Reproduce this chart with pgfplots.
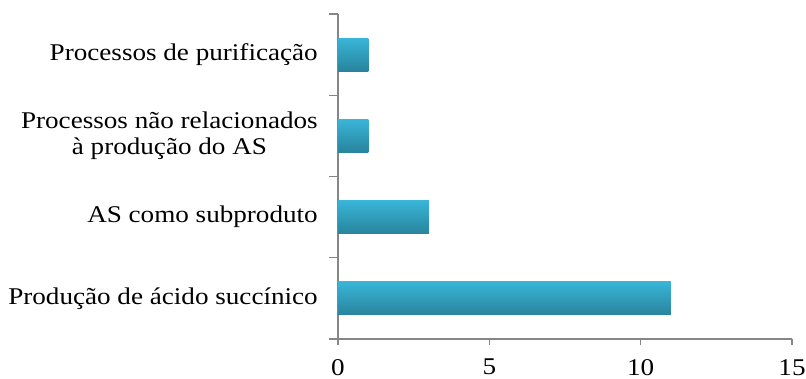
\documentclass[border=0pt]{standalone}
\usepackage{pgfplots}
\pgfplotsset{compat=1.18}
\usepackage{fontspec}
\setmainfont[FakeStretch=1.13]{Liberation Serif}
\definecolor{barlight}{RGB}{57,181,215}
\definecolor{bardark}{RGB}{40,132,157}
\definecolor{axgray}{RGB}{134,134,134}
\begin{document}
\fontsize{24bp}{26bp}\selectfont
\begin{tikzpicture}
\begin{axis}[
  scale only axis, width=454bp, height=325bp,
  xbar, bar width=33bp, bar shift=0pt,
  xmin=0, xmax=15, ymin=-0.5, ymax=3.5,
  xtick={0,5,10,15},
  ytick={0,1,2,3},
  minor ytick={-0.5,0.5,1.5,2.5,3.5},
  yticklabels={Produção de ácido succínico, AS como subproduto, {Processos não relacionados\\à produção do AS}, Processos de purificação},
  yticklabel style={align=center, font=\fontsize{24bp}{26bp}\selectfont, xshift=-6bp},
  xticklabel style={font=\fontsize{24bp}{26bp}\selectfont, inner sep=0pt, yshift=-14bp},
  /pgf/number format/assume math mode=true,
  axis lines*=left,
  axis line style={draw=axgray, line width=1.5bp},
  tick align=outside,
  major tick length=6bp, minor tick length=9bp,
  major x tick style={draw=axgray, line width=1.2bp},
  major y tick style={draw=none},
  minor y tick style={draw=axgray, line width=1.2bp},
]
\addplot[draw=none, top color=barlight, bottom color=bardark] coordinates {(11,0)};
\addplot[draw=none, top color=barlight, bottom color=bardark] coordinates {(3,1)};
\addplot[draw=none, top color=barlight, bottom color=bardark] coordinates {(1,2)};
\addplot[draw=none, top color=barlight, bottom color=bardark] coordinates {(1,3)};
\coordinate (sw) at (rel axis cs:0,0);
\end{axis}
\path (sw) ++(-338bp,-40bp) rectangle ++(806bp,379bp);
\end{tikzpicture}
\end{document}
